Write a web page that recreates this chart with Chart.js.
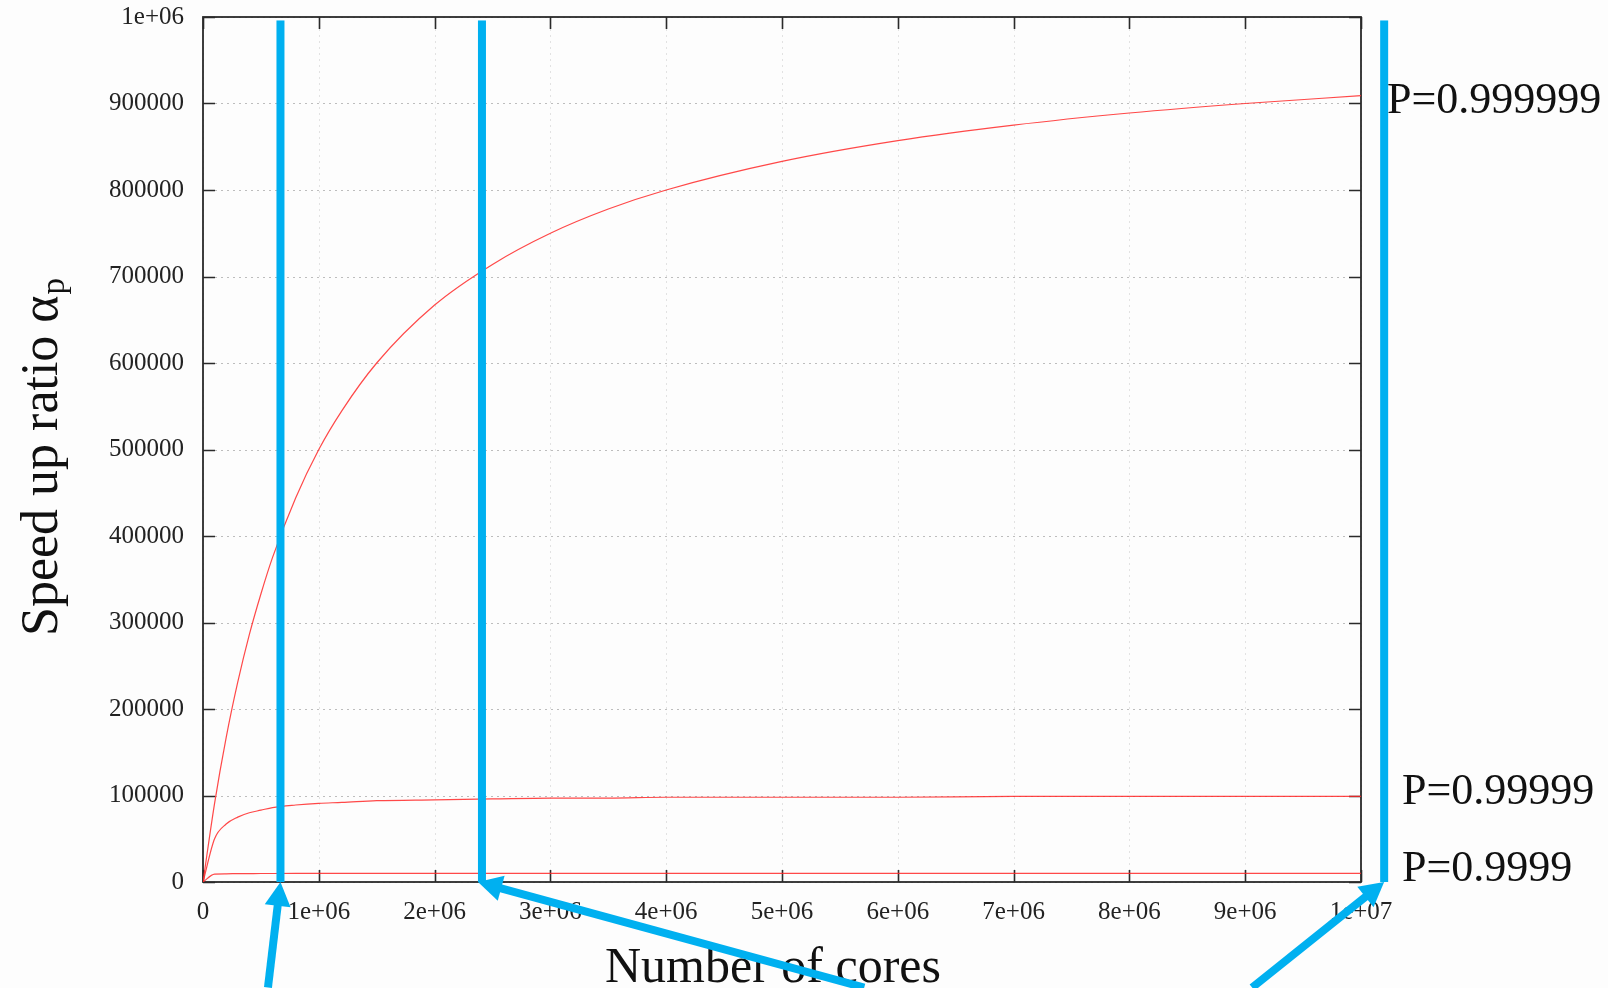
<!DOCTYPE html>
<html>
<head>
<meta charset="utf-8">
<title>Speed up ratio</title>
<script src="https://cdn.jsdelivr.net/npm/chart.js@4.4.1/dist/chart.umd.min.js"></script>
<style>
  html, body { margin: 0; padding: 0; background: #fdfdfd; }
  #wrap { width: 1608px; height: 988px; }
</style>
</head>
<body>
<div id="wrap"><canvas id="mycanvas" width="1608" height="988"></canvas></div>
<script>
// number of cores (x) and speed-up values
var cores    = [0, 1e5, 2e5, 3e5, 4e5, 5e5, 6e5, 8e5, 1e6, 1.2e6, 1.5e6, 2e6, 2.5e6, 3e6, 3.5e6, 4e6, 5e6, 6e6, 7e6, 8e6, 9e6, 1e7];
var speedP6  = [0, 91000, 167000, 231000, 286000, 333000, 375000, 444000, 500000, 545000, 600000, 667000, 714000, 750000, 778000, 800000, 833000, 857000, 875000, 889000, 900000, 909000];
var speedP5  = [0, 50000, 67000, 75000, 80000, 83000, 86000, 89000, 91000, 92000, 94000, 95000, 96000, 97000, 97000, 98000, 98000, 98000, 99000, 99000, 99000, 99000];
var speedP4  = [0, 9100, 9500, 9700, 9760, 9800, 9840, 9880, 9900, 9920, 9930, 9950, 9960, 9970, 9970, 9980, 9980, 9980, 9990, 9990, 9990, 9990];
var curveLabels = ['P=0.999999', 'P=0.99999', 'P=0.9999'];

var xTickLabels = ['0', '1e+06', '2e+06', '3e+06', '4e+06', '5e+06', '6e+06', '7e+06', '8e+06', '9e+06', '1e+07'];
var yTickLabels = ['0', '100000', '200000', '300000', '400000', '500000', '600000', '700000', '800000', '900000', '1e+06'];

// blue highlight bars and arrows (data units)
var markerCores = [0.669e6, 2.409e6, 10.2e6];
var markerTop = 996000;
var arrowFrom = [[0.561e6, -122000], [5.71e6, -122000], [9.06e6, -122000]];
var arrowTo   = [[0.669e6, 0], [2.375e6, 0], [10.2e6, 0]];

var BLUE = '#00b0f0';
var SERIF = '"Liberation Serif", "Times New Roman", serif';

function toPoints(ys) {
  var pts = [];
  for (var i in cores) pts.push({x: cores[i], y: ys[i]});
  return pts;
}

function drawArrow(ctx, x1, y1, x2, y2) {
  var ang = Math.atan2(y2 - y1, x2 - x1);
  var headLen = 24, headHalf = 13;
  var bx = x2 - headLen * Math.cos(ang), by = y2 - headLen * Math.sin(ang);
  ctx.strokeStyle = BLUE;
  ctx.lineWidth = 8;
  ctx.lineCap = 'butt';
  ctx.beginPath();
  ctx.moveTo(x1, y1);
  ctx.lineTo(bx + 2 * Math.cos(ang), by + 2 * Math.sin(ang));
  ctx.stroke();
  ctx.fillStyle = BLUE;
  ctx.beginPath();
  ctx.moveTo(x2, y2);
  ctx.lineTo(bx + headHalf * Math.sin(ang), by - headHalf * Math.cos(ang));
  ctx.lineTo(bx - headHalf * Math.sin(ang), by + headHalf * Math.cos(ang));
  ctx.closePath();
  ctx.fill();
}

// gnuplot style frame: dotted grid, box border, inward ticks on all sides
var framePlugin = {
  id: 'frame',
  beforeDatasetsDraw: function(chart) {
    var ctx = chart.ctx, a = chart.chartArea;
    var xs = chart.scales.x, ys = chart.scales.y;
    ctx.save();
    ctx.lineWidth = 1;
    ctx.setLineDash([2, 4]);
    ctx.strokeStyle = '#e2e2e2';
    xs.ticks.forEach(function(t) {
      var px = Math.round(xs.getPixelForValue(t.value)) + 0.5;
      ctx.beginPath(); ctx.moveTo(px, a.top); ctx.lineTo(px, a.bottom); ctx.stroke();
    });
    ctx.strokeStyle = '#bdbdbd';
    ys.ticks.forEach(function(t) {
      var py = Math.round(ys.getPixelForValue(t.value)) + 0.5;
      ctx.beginPath(); ctx.moveTo(a.left, py); ctx.lineTo(a.right, py); ctx.stroke();
    });
    ctx.setLineDash([]);
    ctx.strokeStyle = '#2a2a2a';
    ctx.lineWidth = 1.6;
    var tl = 12;
    xs.ticks.forEach(function(t) {
      var px = Math.round(xs.getPixelForValue(t.value)) + 0.5;
      ctx.beginPath();
      ctx.moveTo(px, a.bottom); ctx.lineTo(px, a.bottom - tl);
      ctx.moveTo(px, a.top); ctx.lineTo(px, a.top + tl);
      ctx.stroke();
    });
    ys.ticks.forEach(function(t) {
      var py = Math.round(ys.getPixelForValue(t.value)) + 0.5;
      ctx.beginPath();
      ctx.moveTo(a.left, py); ctx.lineTo(a.left + tl, py);
      ctx.moveTo(a.right, py); ctx.lineTo(a.right - tl, py);
      ctx.stroke();
    });
    ctx.lineWidth = 1.8;
    ctx.strokeRect(a.left, a.top, a.right - a.left, a.bottom - a.top);
    ctx.restore();
  }
};

var notesPlugin = {
  id: 'notes',
  afterDraw: function(chart) {
    var ctx = chart.ctx, a = chart.chartArea;
    var xs = chart.scales.x, ys = chart.scales.y;
    ctx.save();

    // blue bars
    ctx.fillStyle = BLUE;
    var topPx = ys.getPixelForValue(markerTop);
    var botPx = ys.getPixelForValue(0);
    markerCores.forEach(function(c) {
      var px = xs.getPixelForValue(c);
      ctx.fillRect(px - 4, topPx, 8, botPx - topPx);
    });

    // curve labels
    ctx.fillStyle = '#111';
    ctx.font = '44px ' + SERIF;
    ctx.textAlign = 'left';
    ctx.textBaseline = 'alphabetic';
    var sets = [speedP6, speedP5, speedP4];
    var dx = [26, 41, 41], dy = [17, 8, 8];
    curveLabels.forEach(function(txt, i) {
      var py = ys.getPixelForValue(sets[i][sets[i].length - 1]);
      ctx.fillText(txt, a.right + dx[i], py + dy[i]);
    });

    // axis titles
    ctx.font = '50px ' + SERIF;
    ctx.textAlign = 'center';
    ctx.fillText('Number of cores', 773, 982);

    ctx.save();
    ctx.translate(57, 636);
    ctx.rotate(-Math.PI / 2);
    ctx.textAlign = 'left';
    ctx.font = '52px ' + SERIF;
    var main = 'Speed up ratio \u03B1';
    ctx.fillText(main, 0, 0);
    var w = ctx.measureText(main).width;
    ctx.font = '33px ' + SERIF;
    ctx.fillText('p', w + 1, 7);
    ctx.restore();

    // arrows
    for (var i = 0; i < arrowFrom.length; i++) {
      drawArrow(ctx,
        xs.getPixelForValue(arrowFrom[i][0]), ys.getPixelForValue(arrowFrom[i][1]),
        xs.getPixelForValue(arrowTo[i][0]), ys.getPixelForValue(arrowTo[i][1]));
    }
    ctx.restore();
  }
};

var lineStyle = {
  borderColor: 'rgba(255, 40, 40, 0.85)',
  borderWidth: 1.2,
  pointRadius: 0,
  fill: false,
  cubicInterpolationMode: 'monotone'
};

var chartdata = {
  datasets: [
    Object.assign({label: curveLabels[0], data: toPoints(speedP6)}, lineStyle),
    Object.assign({label: curveLabels[1], data: toPoints(speedP5)}, lineStyle),
    Object.assign({label: curveLabels[2], data: toPoints(speedP4)}, lineStyle)
  ]
};

var ctx = document.getElementById('mycanvas');

var lineGraph = new Chart(ctx, {
  type: 'line',
  data: chartdata,
  plugins: [framePlugin, notesPlugin],
  options: {
    responsive: false,
    animation: false,
    devicePixelRatio: 1,
    layout: { padding: { top: 17, right: 247, bottom: 0, left: 0 } },
    scales: {
      x: {
        type: 'linear',
        min: 0,
        max: 1e7,
        afterFit: function(scale) {
          scale.height = 106;
          scale.paddingLeft = 0;
          scale.paddingRight = 0;
        },
        grid: { display: false },
        border: { display: false },
        ticks: {
          stepSize: 1e6,
          autoSkip: false,
          maxRotation: 0,
          padding: 7,
          color: '#222',
          font: { family: SERIF, size: 25 },
          callback: function(value, index) { return xTickLabels[index]; }
        }
      },
      y: {
        min: 0,
        max: 1e6,
        afterFit: function(scale) {
          scale.width = 203;
          scale.paddingTop = 0;
          scale.paddingBottom = 0;
        },
        grid: { display: false },
        border: { display: false },
        ticks: {
          stepSize: 1e5,
          padding: 11,
          color: '#222',
          font: { family: SERIF, size: 25 },
          callback: function(value, index) { return yTickLabels[index]; }
        }
      }
    },
    plugins: {
      legend: { display: false },
      title: { display: false },
      tooltip: { enabled: false }
    }
  }
});
</script>
</body>
</html>
